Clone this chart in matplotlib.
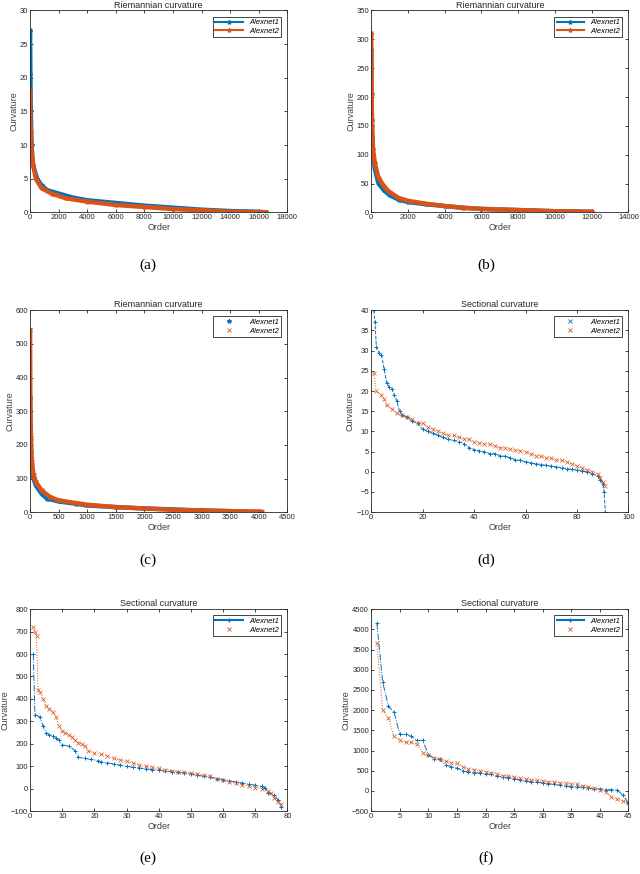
import matplotlib
matplotlib.use("Agg")
import matplotlib.pyplot as plt
from matplotlib.lines import Line2D

plt.rcParams['font.family'] = ['Liberation Sans', 'DejaVu Sans']

BLUE = '#0072BD'
ORANGE = '#D95319'

# (a) Riemannian curvature
a_x1 = [0, 20, 50, 100, 200, 500, 800, 1200, 2000, 3000, 4000, 6000, 8000, 10000, 12000, 14000, 16000, 16500]
a_y1 = [27, 20.5, 15, 10, 7, 5, 4, 3.3, 2.8, 2.2, 1.8, 1.4, 1.0, 0.7, 0.4, 0.2, 0.1, 0.0]
a_x2 = [0, 20, 50, 150, 400, 800, 1500, 2500, 4000, 6000, 8000, 10000, 12000, 14000, 16500]
a_y2 = [18, 14, 12, 8, 5, 3.6, 2.8, 2.1, 1.6, 1.1, 0.8, 0.5, 0.3, 0.1, 0.0]

# (b) Riemannian curvature
b_x1 = [0, 20, 50, 100, 200, 400, 700, 1000, 1500, 2000, 3000, 4000, 5000, 6000, 8000, 10000, 12000]
b_y1 = [282, 160, 130, 100, 75, 50, 38, 30, 22, 18, 14, 11, 8, 6, 4, 2, 1]
b_x2 = [0, 20, 50, 100, 200, 400, 700, 1000, 1500, 2000, 3000, 4000, 5000, 6000, 8000, 10000, 12000]
b_y2 = [310, 205, 150, 110, 85, 60, 45, 35, 25, 20, 15, 11, 8, 6, 4, 2, 1]

# (c) Riemannian curvature
c_x1 = [0, 5, 10, 20, 40, 100, 200, 300, 500, 800, 1000, 1500, 2000, 2500, 3000, 3500, 4000]
c_y1 = [340, 235, 180, 150, 110, 80, 55, 40, 32, 25, 20, 15, 11, 8, 5, 3, 1]
c_x2 = [0, 5, 15, 30, 60, 100, 200, 350, 500, 800, 1000, 1500, 2000, 2500, 3000, 3500, 4050]
c_y2 = [540, 300, 220, 150, 110, 90, 65, 45, 35, 27, 22, 15, 11, 7, 5, 3, 1]

# (d) Sectional curvature
d_x1 = [1, 1.5, 2, 3, 4, 5, 6, 7, 8, 9, 10, 11, 12, 14, 16, 18, 20, 22, 24, 26, 28, 30, 32, 34, 36,
        38, 40, 42, 44, 46, 48, 50, 52, 54, 56, 58, 60, 62, 64, 66, 68, 70, 72, 74, 76, 78, 80, 82,
        84, 86, 88, 89, 90, 90.5, 91]
d_y1 = [40, 37, 31, 29.5, 29, 25.5, 22, 21, 20.5, 19, 17.5, 15, 14, 13.5, 12.5, 12, 10.5, 10, 9.5,
        9, 8.5, 8, 7.8, 7.5, 7, 6, 5.5, 5.2, 5, 4.5, 4.5, 4, 3.8, 3.5, 3, 2.8, 2.5, 2.2, 2, 1.8, 1.6,
        1.4, 1.2, 1, 0.8, 0.6, 0.4, 0.2, 0, -0.5, -1, -2, -3, -5, -10]
d_x2 = [1, 2, 4, 5, 6, 8, 10, 12, 14, 16, 18, 20, 22, 24, 26, 28, 30, 32, 34, 36, 38, 40, 42, 44,
        46, 48, 50, 52, 54, 56, 58, 60, 62, 64, 66, 68, 70, 72, 74, 76, 78, 80, 82, 84, 86, 88, 89,
        90, 91]
d_y2 = [24.5, 20, 19, 18, 16.5, 15.5, 14.5, 14, 13.5, 13, 12, 12, 11, 10.5, 10, 9.5, 9, 9, 8.5,
        8.2, 8, 7.5, 7.2, 7, 6.8, 6.5, 6, 5.8, 5.6, 5.3, 5.2, 5, 4.5, 4, 3.8, 3.5, 3.3, 3, 2.8, 2.5,
        2, 1.5, 1, 0.5, 0, -0.5, -1.5, -2.5, -3.5]

# (e) Sectional curvature
e_x1 = [1, 1.5, 3, 4, 5, 6, 7, 8, 9, 10, 12, 14, 15, 17, 19, 21, 22, 24, 26, 28, 30, 32, 34, 36,
        38, 40, 42, 44, 46, 48, 50, 52, 54, 56, 58, 60, 62, 64, 66, 68, 70, 72, 73, 74, 76, 77, 78]
e_y1 = [600, 330, 320, 280, 250, 240, 235, 225, 215, 195, 190, 170, 140, 135, 130, 125, 120, 115,
        110, 105, 100, 95, 92, 88, 85, 82, 78, 75, 72, 70, 65, 60, 55, 50, 45, 40, 35, 30, 25, 20,
        15, 10, 5, -20, -30, -50, -80]
e_x2 = [1, 1.5, 2, 2.5, 3, 4, 5, 6, 7, 8, 9, 10, 11, 12, 13, 14, 15, 16, 17, 18, 20, 22, 24, 26,
        28, 30, 32, 34, 36, 38, 40, 42, 44, 46, 48, 50, 52, 54, 56, 58, 60, 62, 64, 66, 68, 70, 72,
        74, 75, 76, 77, 78]
e_y2 = [720, 700, 680, 440, 430, 400, 370, 355, 340, 320, 280, 255, 250, 240, 230, 215, 205, 200,
        190, 170, 160, 155, 145, 135, 128, 122, 115, 105, 100, 95, 90, 85, 80, 75, 72, 70, 65, 60,
        55, 45, 40, 30, 25, 18, 12, 5, 0, -10, -20, -40, -60, -70]

# (f) Sectional curvature
f_x = list(range(1, 46))
f_y1 = [4150, 2700, 2100, 1950, 1400, 1400, 1350, 1250, 1250, 900, 800, 780, 640, 600, 560, 500,
        470, 450, 440, 420, 410, 360, 350, 330, 300, 270, 240, 220, 210, 200, 180, 160, 140, 120,
        100, 100, 90, 70, 50, 50, 30, 30, 20, -100, -300]
f_y2 = [3650, 2000, 1800, 1350, 1250, 1200, 1200, 1150, 950, 880, 820, 800, 730, 700, 680, 600,
        550, 520, 500, 480, 450, 420, 380, 370, 340, 310, 290, 270, 260, 240, 230, 220, 200, 190,
        170, 160, 120, 90, 60, 30, -20, -150, -200, -250, -300]

fig = plt.figure(figsize=(6.4, 8.74), dpi=100)

W = 0.402
H = 0.231
lefts = [0.047, 0.580]
bottoms = [0.757, 0.414, 0.072]


def setup(ax, title, xlim, xticks, ylim, yticks, handles):
    ax.set_xlim(*xlim)
    ax.set_ylim(*ylim)
    ax.set_xticks(xticks)
    ax.set_yticks(yticks)
    ax.tick_params(direction='in', top=True, right=True, labelsize=5.5, length=2.5,
                   width=0.6, pad=1.5, colors='#262626')
    for s in ax.spines.values():
        s.set_linewidth(0.6)
        s.set_color('#262626')
    ax.set_title(title, fontsize=6.5, pad=2, color='#262626')
    ax.set_xlabel('Order', fontsize=6.5, labelpad=1, color='#404040')
    ax.set_ylabel('Curvature', fontsize=6.5, labelpad=1, color='#404040')
    leg = ax.legend(handles=handles, loc='upper right', fontsize=5.5, fancybox=False,
                    edgecolor='#262626', framealpha=1, borderpad=0.3, handlelength=3.6,
                    labelspacing=0.2, borderaxespad=0.8)
    leg.get_frame().set_linewidth(0.6)
    for t in leg.get_texts():
        t.set_fontstyle('italic')


ab_handles = [Line2D([], [], ls='-', lw=1.5, marker='*', ms=3, color=BLUE, label='Alexnet1'),
              Line2D([], [], ls='-', lw=1.5, marker='*', ms=3, color=ORANGE, label='Alexnet2')]
c_handles = [Line2D([], [], ls='none', marker='*', ms=3, color=BLUE, label='Alexnet1'),
             Line2D([], [], ls='none', marker='x', ms=3, mew=0.6, color=ORANGE, label='Alexnet2')]
d_handles = [Line2D([], [], ls='none', marker='x', ms=3, mew=0.6, color=BLUE, label='Alexnet1'),
             Line2D([], [], ls='none', marker='x', ms=3, mew=0.6, color=ORANGE, label='Alexnet2')]
ef_handles = [Line2D([], [], ls='-', lw=1.5, marker='+', ms=2.5, color=BLUE, label='Alexnet1'),
              Line2D([], [], ls='none', marker='x', ms=3, mew=0.6, color=ORANGE, label='Alexnet2')]

# (a)
ax = fig.add_axes([lefts[0], bottoms[0], W, H])
ax.plot(a_x1, a_y1, '-*', color=BLUE, lw=3.2, ms=3)
ax.plot(a_x2, a_y2, '-*', color=ORANGE, lw=3.2, ms=3)
setup(ax, 'Riemannian curvature', (0, 18000), range(0, 18001, 2000), (0, 30), range(0, 31, 5),
      ab_handles)

# (b)
ax = fig.add_axes([lefts[1], bottoms[0], W, H])
ax.plot(b_x1, b_y1, '-*', color=BLUE, lw=3.2, ms=3)
ax.plot(b_x2, b_y2, '-*', color=ORANGE, lw=3.2, ms=3)
setup(ax, 'Riemannian curvature', (0, 14000), range(0, 14001, 2000), (0, 350), range(0, 351, 50),
      ab_handles)

# (c)
ax = fig.add_axes([lefts[0], bottoms[1], W, H])
ax.plot(c_x1, c_y1, '-*', color=BLUE, lw=3.2, ms=3)
ax.plot(c_x2, c_y2, '-x', color=ORANGE, lw=3.2, ms=3)
setup(ax, 'Riemannian curvature', (0, 4500), range(0, 4501, 500), (0, 600), range(0, 601, 100),
      c_handles)

# (d)
ax = fig.add_axes([lefts[1], bottoms[1], W, H])
ax.plot(d_x1, d_y1, '--+', color=BLUE, lw=0.7, ms=2.5, mew=0.7)
ax.plot(d_x2, d_y2, ':x', color=ORANGE, lw=0.7, ms=2.5, mew=0.5)
setup(ax, 'Sectional curvature', (0, 100), range(0, 101, 20), (-10, 40), range(-10, 41, 5),
      d_handles)

# (e)
ax = fig.add_axes([lefts[0], bottoms[2], W, H])
ax.plot(e_x1, e_y1, '-.+', color=BLUE, lw=0.7, ms=2.5, mew=0.7)
ax.plot(e_x2, e_y2, ':x', color=ORANGE, lw=0.7, ms=2.5, mew=0.5)
setup(ax, 'Sectional curvature', (0, 80), range(0, 81, 10), (-100, 800), range(-100, 801, 100),
      ef_handles)

# (f)
ax = fig.add_axes([lefts[1], bottoms[2], W, H])
ax.plot(f_x, f_y1, '-.+', color=BLUE, lw=0.7, ms=2.5, mew=0.7)
ax.plot(f_x, f_y2, ':x', color=ORANGE, lw=0.7, ms=2.5, mew=0.5)
setup(ax, 'Sectional curvature', (0, 45), range(0, 46, 5), (-500, 4500), range(-500, 4501, 500),
      ef_handles)

# sub-figure captions
for lab, x, y in [('(a)', 0.231, 0.696), ('(b)', 0.760, 0.696),
                  ('(c)', 0.231, 0.359), ('(d)', 0.760, 0.359),
                  ('(e)', 0.231, 0.018), ('(f)', 0.760, 0.018)]:
    fig.text(x, y, lab, ha='center', va='center', fontsize=11, family='Liberation Serif')

fig.savefig('out.png', dpi=100)
